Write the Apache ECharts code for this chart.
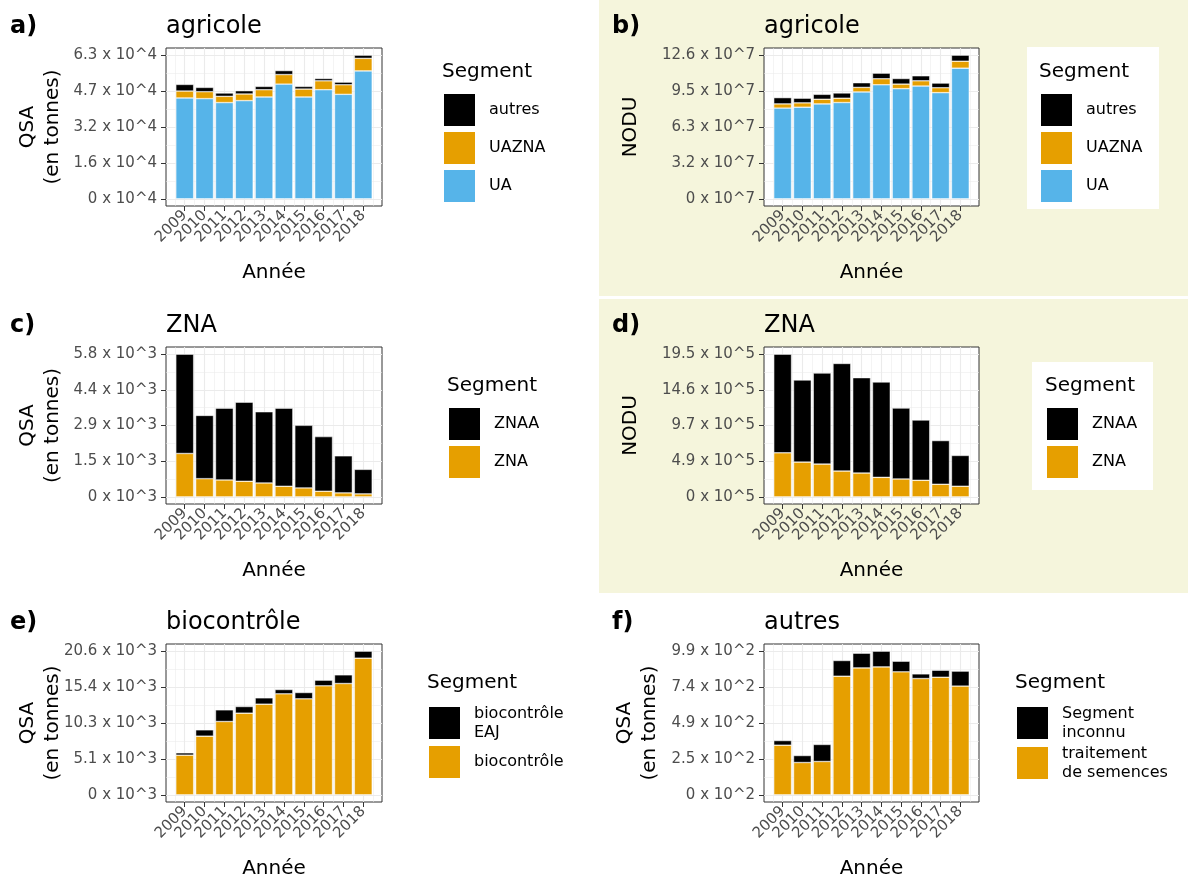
<!DOCTYPE html>
<html><head><meta charset="utf-8">
<script src="https://cdn.jsdelivr.net/npm/echarts@6/dist/echarts.min.js"></script>
<style>html,body{margin:0;padding:0;background:#fff}#c{width:1188px;height:881px}</style>
</head><body><div id="c"></div>
<script>
// ---------- DATA ----------
const years = [2009, 2010, 2011, 2012, 2013, 2014, 2015, 2016, 2017, 2018];

// a) agricole - QSA (tonnes)
const aUA     = [44310, 44020, 42280, 43150, 44740, 50390, 44740, 47930, 45900, 56200];
const aUAZNA  = [3040, 3040, 2750, 2900, 3190, 4200, 3480, 3910, 4200, 5500];
const aAutres = [2900, 1880, 1450, 1440, 1450, 1740, 1160, 1010, 1160, 1400];

// b) agricole - NODU
const bUA     = [79.7e6, 80.5e6, 83.4e6, 84.6e6, 93.9e6, 100.2e6, 96.8e6, 99.1e6, 93.3e6, 114.8e6];
const bUAZNA  = [3.7e6, 3.8e6, 4.1e6, 3.8e6, 4.0e6, 5.3e6, 4.0e6, 4.6e6, 4.3e6, 6.1e6];
const bAutres = [5.5e6, 4.1e6, 4.3e6, 4.6e6, 4.1e6, 4.9e6, 4.9e6, 4.4e6, 4.1e6, 5.3e6];

// c) ZNA - QSA (tonnes)
const cZNA  = [1769, 743, 689, 635, 567, 432, 365, 230, 162, 122];
const cZNAA = [4051, 2578, 2929, 3226, 2903, 3186, 2551, 2227, 1512, 999];

// d) ZNA - NODU
const dZNA  = [601000, 474000, 447000, 352000, 325000, 266000, 244000, 226000, 172000, 145000];
const dZNAA = [1346000, 1120000, 1242000, 1468000, 1301000, 1301000, 967000, 822000, 596000, 420000];

// e) biocontrôle - QSA (tonnes)
const eBio = [5682, 8404, 10505, 11699, 12988, 14468, 13752, 15614, 15948, 19578];
const eEAJ = [335, 907, 1671, 955, 907, 621, 907, 812, 1242, 1002];

// f) autres - QSA (tonnes)
const fTraitement = [341, 222, 229, 815, 872, 879, 845, 799, 808, 747];
const fInconnu    = [32, 48, 117, 108, 101, 108, 73, 32, 48, 103];

// tick-label exponents used for each panel's y axis
const exponents = [4, 7, 3, 5, 3, 2];
const tags   = ['a)', 'b)', 'c)', 'd)', 'e)', 'f)'];
const titles = ['agricole', 'agricole', 'ZNA', 'ZNA', 'biocontrôle', 'autres'];
const yTitles = ['QSA\n(en tonnes)', 'NODU', 'QSA\n(en tonnes)', 'NODU', 'QSA\n(en tonnes)', 'QSA\n(en tonnes)'];
const xTitle = 'Année';
const legendTitle = 'Segment';

// ---------- STYLE ----------
const FONT = 'DejaVu Sans';
const C_BLUE = '#56B4E9', C_ORANGE = '#E69F00', C_BLACK = '#000000';

const panels = [
  { series: [['UA', aUA, C_BLUE], ['UAZNA', aUAZNA, C_ORANGE], ['autres', aAutres, C_BLACK]],
    grid: [166, 48, 216, 158], tagX: 10, ylabX: 40.5, leg: [442, 92], seg: [442, 72] },
  { series: [['UA', bUA, C_BLUE], ['UAZNA', bUAZNA, C_ORANGE], ['autres', bAutres, C_BLACK]],
    grid: [764, 48, 215, 158], tagX: 612, ylabX: 631, leg: [1039, 92], seg: [1039, 72], box: [1027, 47, 132, 162] },
  { series: [['ZNA', cZNA, C_ORANGE], ['ZNAA', cZNAA, C_BLACK]],
    grid: [166, 347, 216, 157], tagX: 10, ylabX: 40.5, leg: [447, 406], seg: [447, 386] },
  { series: [['ZNA', dZNA, C_ORANGE], ['ZNAA', dZNAA, C_BLACK]],
    grid: [764, 347, 215, 157], tagX: 612, ylabX: 631, leg: [1045, 406], seg: [1045, 386], box: [1032, 362, 121, 128] },
  { series: [['biocontrôle', eBio, C_ORANGE], ['biocontrôle EAJ', eEAJ, C_BLACK]],
    grid: [166, 644, 216, 158], tagX: 10, ylabX: 40.5, leg: [427, 704], seg: [427, 683] },
  { series: [['traitement de semences', fTraitement, C_ORANGE], ['Segment inconnu', fInconnu, C_BLACK]],
    grid: [764, 644, 215, 158], tagX: 612, ylabX: 637, leg: [1015, 704], seg: [1015, 683] }
];

const legendLabels = {
  'biocontrôle EAJ': 'biocontrôle\nEAJ',
  'Segment inconnu': 'Segment\ninconnu',
  'traitement de semences': 'traitement\nde semences'
};

// x range like ggplot: bars of width 0.9 + 5% expansion
const xLo0 = years[0] - 0.45, xHi0 = years[years.length - 1] + 0.45;
const xPad = (xHi0 - xLo0) * 0.05;
const xMin = xLo0 - xPad, xMax = xHi0 + xPad;
const halfYears = [years[0] - 0.5].concat(years.map(y => y + 0.5));

const grids = [], xAxes = [], yAxes = [], series = [], legends = [];
const graphics = [
  { type: 'rect', shape: { x: 599, y: 0, width: 589, height: 296 }, style: { fill: '#f5f5dc' }, z: -100 },
  { type: 'rect', shape: { x: 599, y: 299, width: 589, height: 294 }, style: { fill: '#f5f5dc' }, z: -100 }
];

panels.forEach((p, i) => {
  const [gl, gt, gw, gh] = p.grid;
  const gMain = grids.length;
  grids.push({ left: gl, top: gt, width: gw, height: gh, show: true, backgroundColor: '#ffffff',
    borderColor: '#333333', borderWidth: 1, containLabel: false, outerBoundsMode: 'none' });
  // overlay grid spanning exactly the year slots, used for the year ticks and labels
  const pxU = gw / (xMax - xMin);
  const gLab = grids.length;
  grids.push({ left: gl + (years[0] - 0.5 - xMin) * pxU, top: gt, width: years.length * pxU, height: gh,
    show: false, containLabel: false, outerBoundsMode: 'none' });

  // y scale: 0..max total, expanded by 5%
  const totals = years.map((_, j) => p.series.reduce((s, d) => s + d[1][j], 0));
  const M = Math.max.apply(null, totals);
  const majors = [0, M / 4, M / 2, 3 * M / 4, M];
  const minors = [M / 8, 3 * M / 8, 5 * M / 8, 7 * M / 8];
  const ex = exponents[i];
  const fmt = v => (Math.abs(v) < 1e-9 ? '0' : (v / Math.pow(10, ex)).toFixed(1)) + ' x 10^' + ex;

  const xBase = xAxes.length;
  // value x axis: major grid lines at the years
  xAxes.push({
    type: 'value', gridIndex: gMain, min: xMin, max: xMax, position: 'bottom',
    axisLine: { show: false }, axisTick: { show: false, customValues: years }, axisLabel: { show: false },
    splitLine: { show: true, lineStyle: { color: '#ebebeb', width: 1.1 } }
  });
  // minor grid lines between years
  xAxes.push({
    type: 'value', gridIndex: gMain, min: xMin, max: xMax, position: 'top',
    axisLine: { show: false }, axisTick: { show: false, customValues: halfYears }, axisLabel: { show: false },
    splitLine: { show: true, lineStyle: { color: '#ebebeb', width: 0.55 } }
  });
  // category axis carrying ticks and rotated year labels
  xAxes.push({
    type: 'category', gridIndex: gLab, data: years.map(String), boundaryGap: true, position: 'bottom',
    axisLine: { show: false },
    axisTick: { show: true, alignWithLabel: true, interval: 0, length: 5, lineStyle: { color: '#333333', width: 1 } },
    axisLabel: { show: true, interval: 0, rotate: 45, margin: 7, fontSize: 15, color: '#4d4d4d', fontFamily: FONT },
    splitLine: { show: false }
  });

  const yBase = yAxes.length;
  yAxes.push({
    type: 'value', gridIndex: gMain, min: -0.05 * M, max: 1.05 * M, position: 'left',
    axisLine: { show: false },
    axisTick: { show: true, length: 5, lineStyle: { color: '#333333', width: 1 }, customValues: majors },
    axisLabel: { show: true, customValues: majors, margin: 9, fontSize: 15, color: '#4d4d4d', fontFamily: FONT,
      showMinLabel: true, showMaxLabel: true, formatter: fmt },
    splitLine: { show: true, lineStyle: { color: '#ebebeb', width: 1.1 } }
  });
  yAxes.push({
    type: 'value', gridIndex: gMain, min: -0.05 * M, max: 1.05 * M, position: 'right',
    axisLine: { show: false }, axisTick: { show: false, customValues: minors }, axisLabel: { show: false },
    splitLine: { show: true, lineStyle: { color: '#ebebeb', width: 0.55 } }
  });
  yAxes.push({ type: 'value', gridIndex: gLab, show: false, min: 0, max: 1 });

  p.series.forEach(([name, vals, color]) => {
    series.push({
      type: 'bar', name, xAxisIndex: xBase, yAxisIndex: yBase, stack: 'st' + i, barWidth: '90%',
      // value first so the library stacks the value dimension
      data: years.map((y, j) => [vals[j], y]),
      encode: { x: 1, y: 0 },
      itemStyle: { color, borderColor: '#ffffff', borderWidth: 0.5 },
      silent: true, emphasis: { disabled: true }, z: 3
    });
  });

  legends.push({
    left: p.leg[0], top: p.leg[1], orient: 'vertical', padding: 0,
    data: p.series.map(s => s[0]).reverse(),
    icon: 'rect', itemWidth: 33, itemHeight: 34, itemGap: 2, selectedMode: false,
    formatter: n => legendLabels[n] || n,
    textStyle: { fontSize: 16, color: '#000', fontFamily: FONT, lineHeight: 19, padding: [0, 0, 0, 8] }
  });

  if (p.box) {
    graphics.push({ type: 'rect', shape: { x: p.box[0], y: p.box[1], width: p.box[2], height: p.box[3] },
      style: { fill: '#ffffff' }, z: -50 });
  }
  graphics.push({ type: 'text', x: p.tagX, y: gt - 21, z: 100,
    style: { text: tags[i], fontSize: 24, fontWeight: 'bold', fontFamily: FONT, fill: '#000', align: 'left', verticalAlign: 'middle' } });
  graphics.push({ type: 'text', x: gl, y: gt - 21, z: 100,
    style: { text: titles[i], fontSize: 24, fontFamily: FONT, fill: '#000', align: 'left', verticalAlign: 'middle' } });
  graphics.push({ type: 'text', x: p.ylabX, y: gt + gh / 2, rotation: Math.PI / 2, z: 100,
    style: { text: yTitles[i], fontSize: 20, lineHeight: 25, fontFamily: FONT, fill: '#000', align: 'center', verticalAlign: 'middle' } });
  graphics.push({ type: 'text', x: gl + gw / 2, y: gt + gh + 67, z: 100,
    style: { text: xTitle, fontSize: 20, fontFamily: FONT, fill: '#000', align: 'center', verticalAlign: 'middle' } });
  graphics.push({ type: 'text', x: p.seg[0], y: p.seg[1], z: 100,
    style: { text: legendTitle, fontSize: 20, fontFamily: FONT, fill: '#000', align: 'left', verticalAlign: 'middle' } });
});

const chart = echarts.init(document.getElementById('c'), null, { renderer: 'canvas', width: 1188, height: 881 });
chart.setOption({
  animation: false,
  backgroundColor: '#ffffff',
  textStyle: { fontFamily: FONT },
  grid: grids, xAxis: xAxes, yAxis: yAxes, series, legend: legends,
  graphic: { elements: graphics }
});
</script></body></html>
